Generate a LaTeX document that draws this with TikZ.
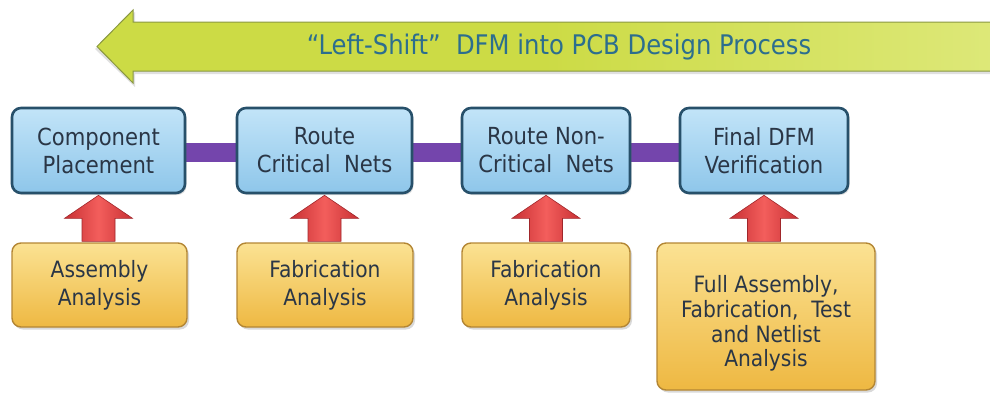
\documentclass[tikz,border=0pt]{standalone}
\usepackage{fontspec}
\setmainfont{DejaVu Sans Condensed}
\usetikzlibrary{shadows,calc,backgrounds}

\definecolor{bandfill}{HTML}{CCDB45}
\definecolor{bandlight}{HTML}{DDE878}
\definecolor{bandedge}{HTML}{8A9842}
\definecolor{bandtext}{HTML}{2C6E8E}
\definecolor{bluetop}{HTML}{C2E4F8}
\definecolor{bluebot}{HTML}{8EC6EA}
\definecolor{blueedge}{HTML}{27506A}
\definecolor{ambertop}{HTML}{FBE293}
\definecolor{amberbot}{HTML}{EEB842}
\definecolor{amberedge}{HTML}{B38634}
\definecolor{redside}{HTML}{C83034}
\definecolor{redmid}{HTML}{F35E5C}
\definecolor{linkpurple}{HTML}{7445AC}
\definecolor{boxtext}{HTML}{2A3646}

\tikzset{
  stagebox/.style={draw=blueedge, line width=2.6pt, rounded corners=9pt,
    top color=bluetop, bottom color=bluebot,
    drop shadow={shadow xshift=1.5pt, shadow yshift=-2pt, opacity=0.25},
    inner sep=0pt, align=center, text=boxtext, font=\fontsize{23.5}{28}\selectfont},
  checkbox/.style={draw=amberedge, line width=1.4pt, rounded corners=9pt,
    top color=ambertop, bottom color=amberbot,
    drop shadow={shadow xshift=2pt, shadow yshift=-2.5pt, opacity=0.3},
    inner sep=0pt, align=center, text=boxtext, font=\fontsize{22.5}{28}\selectfont},
  link/.style={line width=19pt, draw=linkpurple},
  feedarrow/.style={shading=axis, shading angle=90, left color=redside,
    right color=redside, middle color=redmid, draw=redside!80!black, line width=0.6pt},
}

\begin{document}
\begin{tikzpicture}[x=1pt, y=-1pt]
\useasboundingbox (0,0) rectangle (990,392);

% big left-pointing band with the title
\fill[black, opacity=0.12] (95,49) -- (135,12) -- (135,25) -- (990,25) -- (990,74) -- (135,74) -- (135,87) -- cycle;
\path[shading=axis, shading angle=90, left color=bandfill, right color=bandlight, middle color=bandfill, draw=bandedge, line width=1pt]
  (97,46.5) -- (133,10) -- (133,22) -- (992,22) -- (992,71) -- (133,71) -- (133,83) -- cycle;
\node (title) at (559,47) [text=bandtext, font=\fontsize{27}{30}\selectfont]
  {``Left-Shift''\ \ DFM into PCB\ Design Process};

% design stages
\node (b1) at (98.5,150.5) [stagebox, minimum width=173pt, minimum height=85pt] {Component\\Placement};
\node (b2) at (324.5,150.5) [stagebox, minimum width=175pt, minimum height=85pt] {Route\\Critical\ \ Nets};
\node (b3) at (546,150.5) [stagebox, minimum width=168pt, minimum height=85pt] {Route\ Non-\\Critical\ \ Nets};
\node (b4) at (764,150.5) [stagebox, minimum width=168pt, minimum height=85pt] {Final\ DFM\\Verification};

% analysis checks
\node (o1) at (99.5,285) [checkbox, minimum width=175pt, minimum height=84pt] {Assembly\\Analysis};
\node (o2) at (325,285) [checkbox, minimum width=176pt, minimum height=84pt] {Fabrication\\Analysis};
\node (o3) at (546,285) [checkbox, minimum width=168pt, minimum height=84pt] {Fabrication\\Analysis};
\node (o4) at (766,316.5) [checkbox, minimum width=218pt, minimum height=147pt,
  font=\fontsize{22.5}{24.8}\selectfont]
  {\rule{0pt}{31pt}Full Assembly,\\Fabrication,\ \ Test\\and Netlist\\Analysis};

% links between the design stages, behind the boxes
\begin{scope}[on background layer]
  \draw[link] ([yshift=-1.5pt]b1.east) -- ([yshift=-1.5pt]b2.west);
  \draw[link] ([yshift=-1.5pt]b2.east) -- ([yshift=-1.5pt]b3.west);
  \draw[link] ([yshift=-1.5pt]b3.east) -- ([yshift=-1.5pt]b4.west);
\end{scope}

% feed arrows from each check up into its stage
\foreach \b/\o in {b1/o1, b2/o2, b3/o3, b4/o4}{
  \path[feedarrow] let \p1=([yshift=-1pt]\b.south), \p2=([yshift=1pt]\o.north) in
    (\x1-16.5pt,\y2) -- (\x1-16.5pt,\y1-23pt) -- (\x1-34pt,\y1-23pt) -- (\p1)
    -- (\x1+34pt,\y1-23pt) -- (\x1+16.5pt,\y1-23pt) -- (\x1+16.5pt,\y2) -- cycle;
}
\end{tikzpicture}
\end{document}
